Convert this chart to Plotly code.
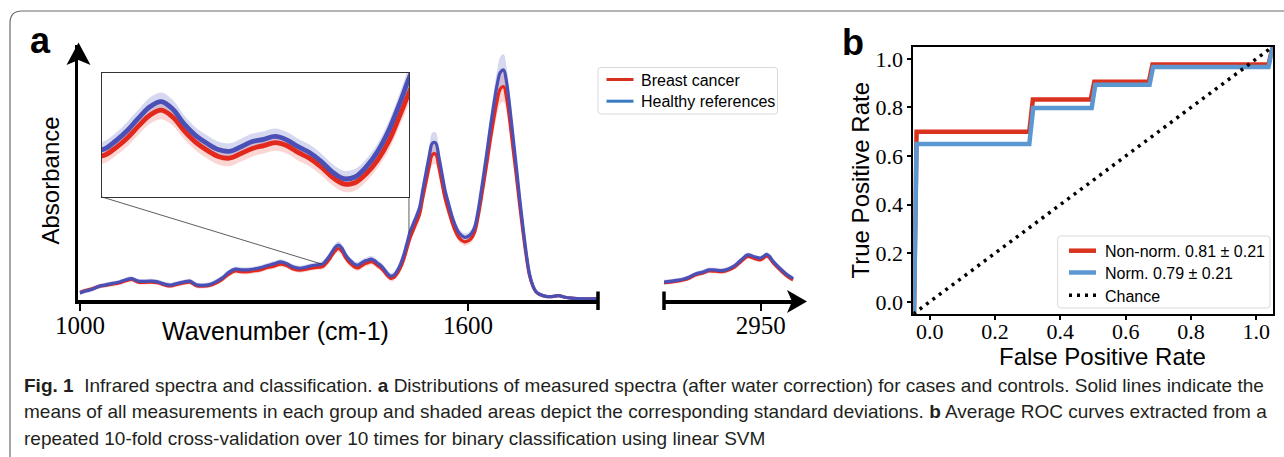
import plotly.graph_objects as go

W, H = 1284, 457

# ---------------- Panel a: IR spectra (mean +/- std) ----------------
wn_low = [1000, 1010, 1020, 1030, 1040, 1050, 1060, 1070, 1080, 1090,
          1100, 1110, 1120, 1130, 1140, 1150, 1160, 1170, 1180, 1190,
          1200, 1210, 1220, 1230, 1240, 1250, 1260, 1270, 1280, 1290,
          1300, 1310, 1320, 1330, 1340, 1350, 1360, 1370,
          1375, 1380, 1385, 1390, 1395, 1400, 1405, 1410, 1415, 1420,
          1425, 1430, 1435, 1440, 1445, 1450, 1455, 1460, 1465, 1470,
          1475, 1480, 1485, 1490, 1495, 1500, 1505, 1510, 1515, 1520,
          1525, 1530, 1535, 1540, 1545, 1550, 1555, 1560, 1565, 1570,
          1575, 1580, 1585, 1590, 1595, 1600, 1605, 1610, 1615, 1620,
          1625, 1630, 1635, 1640, 1645, 1650, 1655, 1660, 1665, 1670,
          1675, 1680, 1685, 1690, 1695, 1700, 1705, 1710,
          1720, 1730, 1740, 1750, 1760, 1770, 1780, 1790, 1800]

healthy_low = [0.031, 0.040, 0.048, 0.060, 0.066, 0.072, 0.077, 0.087, 0.093, 0.082,
               0.081, 0.082, 0.079, 0.070, 0.065, 0.072, 0.078, 0.082, 0.066, 0.064,
               0.067, 0.079, 0.096, 0.120, 0.134, 0.131, 0.131, 0.135, 0.141, 0.150,
               0.157, 0.166, 0.158, 0.143, 0.138, 0.143, 0.150, 0.154,
               0.156, 0.170, 0.188, 0.210, 0.230, 0.239, 0.226, 0.200, 0.180, 0.166,
               0.155, 0.152, 0.160, 0.169, 0.173, 0.178, 0.172, 0.160, 0.150, 0.135,
               0.116, 0.104, 0.107, 0.125, 0.152, 0.190, 0.240, 0.292, 0.328, 0.362,
               0.400, 0.478, 0.552, 0.625, 0.682, 0.683, 0.620, 0.545, 0.470, 0.418,
               0.366, 0.326, 0.296, 0.280, 0.272, 0.276, 0.288, 0.315, 0.378, 0.465,
               0.560, 0.658, 0.760, 0.852, 0.935, 0.990, 1.000, 0.940, 0.828, 0.700,
               0.573, 0.440, 0.318, 0.205, 0.115, 0.065, 0.037, 0.026,
               0.016, 0.015, 0.019, 0.012, 0.008, 0.006, 0.005, 0.005, 0.005]

cancer_low = [0.033, 0.042, 0.050, 0.060, 0.064, 0.069, 0.074, 0.083, 0.089, 0.078,
              0.077, 0.078, 0.075, 0.066, 0.061, 0.068, 0.074, 0.077, 0.062, 0.060,
              0.063, 0.074, 0.090, 0.112, 0.126, 0.123, 0.123, 0.127, 0.132, 0.141,
              0.147, 0.156, 0.149, 0.135, 0.130, 0.134, 0.140, 0.143,
              0.145, 0.158, 0.175, 0.196, 0.215, 0.224, 0.212, 0.188, 0.168, 0.154,
              0.143, 0.140, 0.148, 0.157, 0.162, 0.167, 0.162, 0.150, 0.140, 0.125,
              0.107, 0.095, 0.097, 0.113, 0.137, 0.171, 0.218, 0.266, 0.302, 0.336,
              0.371, 0.443, 0.512, 0.580, 0.632, 0.634, 0.576, 0.506, 0.437, 0.388,
              0.340, 0.302, 0.275, 0.260, 0.253, 0.257, 0.268, 0.293, 0.352, 0.432,
              0.520, 0.611, 0.705, 0.790, 0.866, 0.918, 0.928, 0.872, 0.769, 0.650,
              0.533, 0.410, 0.297, 0.192, 0.108, 0.062, 0.036, 0.025,
              0.016, 0.015, 0.019, 0.012, 0.008, 0.006, 0.005, 0.005, 0.005]

healthy_std_low = [0.010, 0.010, 0.010, 0.010, 0.010, 0.010, 0.010, 0.010, 0.010, 0.010,
                   0.010, 0.010, 0.010, 0.010, 0.010, 0.010, 0.010, 0.010, 0.010, 0.010,
                   0.010, 0.011, 0.011, 0.011, 0.011, 0.011, 0.011, 0.011, 0.011, 0.011,
                   0.011, 0.011, 0.011, 0.011, 0.011, 0.011, 0.011, 0.011,
                   0.014, 0.014, 0.015, 0.015, 0.016, 0.016, 0.016, 0.015, 0.014, 0.014,
                   0.014, 0.014, 0.014, 0.014, 0.014, 0.014, 0.014, 0.014, 0.014, 0.014,
                   0.014, 0.014, 0.014, 0.014, 0.014, 0.016, 0.018, 0.021, 0.022, 0.024,
                   0.026, 0.031, 0.036, 0.041, 0.046, 0.046, 0.041, 0.035, 0.031, 0.027,
                   0.024, 0.021, 0.019, 0.018, 0.018, 0.018, 0.019, 0.020, 0.025, 0.030,
                   0.036, 0.043, 0.050, 0.057, 0.064, 0.068, 0.069, 0.064, 0.056, 0.047,
                   0.037, 0.029, 0.021, 0.014, 0.010, 0.008, 0.007, 0.007,
                   0.006, 0.006, 0.006, 0.006, 0.006, 0.006, 0.006, 0.006, 0.006]

cancer_std_low = [0.010, 0.010, 0.010, 0.010, 0.010, 0.010, 0.010, 0.010, 0.010, 0.010,
                  0.010, 0.010, 0.010, 0.010, 0.010, 0.010, 0.010, 0.010, 0.010, 0.010,
                  0.010, 0.011, 0.011, 0.011, 0.011, 0.011, 0.011, 0.011, 0.011, 0.011,
                  0.011, 0.011, 0.011, 0.011, 0.011, 0.011, 0.011, 0.011,
                  0.014, 0.014, 0.015, 0.015, 0.015, 0.016, 0.015, 0.015, 0.014, 0.014,
                  0.014, 0.014, 0.014, 0.014, 0.014, 0.014, 0.014, 0.014, 0.014, 0.014,
                  0.014, 0.014, 0.014, 0.014, 0.014, 0.016, 0.018, 0.020, 0.021, 0.023,
                  0.025, 0.030, 0.035, 0.040, 0.044, 0.044, 0.040, 0.034, 0.030, 0.026,
                  0.023, 0.020, 0.018, 0.017, 0.017, 0.017, 0.018, 0.019, 0.024, 0.029,
                  0.035, 0.041, 0.048, 0.055, 0.061, 0.065, 0.066, 0.061, 0.053, 0.045,
                  0.036, 0.028, 0.020, 0.013, 0.010, 0.008, 0.007, 0.007,
                  0.006, 0.006, 0.006, 0.006, 0.006, 0.006, 0.006, 0.006, 0.006]

wn_high = [2800, 2810, 2820, 2830, 2840, 2850, 2860, 2870, 2880, 2890, 2900,
           2910, 2920, 2930, 2940, 2950, 2960, 2970, 2980, 2990, 3000]
healthy_high = [0.078, 0.081, 0.085, 0.090, 0.100, 0.114, 0.121, 0.131, 0.130, 0.128, 0.135,
                0.150, 0.175, 0.196, 0.188, 0.182, 0.198, 0.166, 0.137, 0.112, 0.093]
cancer_high = [0.075, 0.078, 0.082, 0.087, 0.096, 0.110, 0.117, 0.126, 0.125, 0.123, 0.130,
               0.144, 0.168, 0.189, 0.181, 0.175, 0.191, 0.159, 0.131, 0.106, 0.088]
healthy_std_high = [0.010] * 21
cancer_std_high = [0.010] * 21

x_ticks_low = [1000, 1600]
x_ticks_high = [2950]

# ---------------- Panel b: ROC curves ----------------
fpr_nonnorm = [-0.048, -0.040, 0.305, 0.316, 0.493, 0.504, 0.671, 0.682, 1.037, 1.052]
tpr_nonnorm = [-0.060, 0.700, 0.700, 0.833, 0.833, 0.906, 0.906, 0.977, 0.977, 1.060]
fpr_norm = [-0.048, -0.040, 0.305, 0.317, 0.496, 0.507, 0.673, 0.684, 1.037, 1.052]
tpr_norm = [-0.060, 0.650, 0.650, 0.798, 0.798, 0.893, 0.893, 0.966, 0.966, 1.060]
chance = [-0.05, 1.05]
roc_ticks = [0.0, 0.2, 0.4, 0.6, 0.8, 1.0]

legend_a_labels = ["Breast cancer", "Healthy references"]
legend_b_labels = ["Non-norm. 0.81 \u00b1 0.21", "Norm. 0.79 \u00b1 0.21", "Chance"]

# ---------------- styling ----------------
RED = "#e2291c"
BLUE = "#4a50b6"
RED_BAND = "rgba(236,110,100,0.28)"
BLUE_BAND = "rgba(120,125,205,0.30)"
ROC_RED = "#d9321f"
ROC_BLUE = "#5b98d2"
LEG_RED = "#d7301f"
LEG_BLUE = "#3a7bc4"
SANS = "Liberation Sans, Arial, sans-serif"
SERIF = "Liberation Serif, Times New Roman, serif"


def px(x):
    return x / W


def py(y):
    return 1 - y / H


fig = go.Figure()


def add_spectra(xa, ya, x, healthy, h_std, cancer, c_std, lw):
    for mean, std, col in ((cancer, c_std, RED_BAND), (healthy, h_std, BLUE_BAND)):
        lo = [m - s for m, s in zip(mean, std)]
        hi = [m + s for m, s in zip(mean, std)]
        fig.add_trace(go.Scatter(x=x, y=lo, mode="lines", line=dict(width=0, shape="spline"),
                                 xaxis=xa, yaxis=ya, showlegend=False, hoverinfo="skip"))
        fig.add_trace(go.Scatter(x=x, y=hi, mode="lines", line=dict(width=0, shape="spline"),
                                 fill="tonexty", fillcolor=col,
                                 xaxis=xa, yaxis=ya, showlegend=False, hoverinfo="skip"))
    fig.add_trace(go.Scatter(x=x, y=cancer, mode="lines", name=legend_a_labels[0],
                             line=dict(color=RED, width=lw, shape="spline"),
                             xaxis=xa, yaxis=ya, showlegend=False))
    fig.add_trace(go.Scatter(x=x, y=healthy, mode="lines", name=legend_a_labels[1],
                             line=dict(color=BLUE, width=lw, shape="spline"),
                             xaxis=xa, yaxis=ya, showlegend=False))


add_spectra("x", "y", wn_low, healthy_low, healthy_std_low, cancer_low, cancer_std_low, 3.2)
add_spectra("x2", "y", wn_high, healthy_high, healthy_std_high, cancer_high, cancer_std_high, 3.2)
add_spectra("x3", "y3", wn_low, healthy_low, healthy_std_low, cancer_low, cancer_std_low, 4.8)

# ROC
fig.add_trace(go.Scatter(x=fpr_nonnorm, y=tpr_nonnorm, mode="lines", line=dict(color=ROC_RED, width=4.5),
                         name=legend_b_labels[0], showlegend=False, xaxis="x4", yaxis="y4"))
fig.add_trace(go.Scatter(x=fpr_norm, y=tpr_norm, mode="lines", line=dict(color=ROC_BLUE, width=4.5),
                         name=legend_b_labels[1], showlegend=False, xaxis="x4", yaxis="y4"))
fig.add_trace(go.Scatter(x=chance, y=chance, mode="lines", line=dict(color="black", width=3.5, dash="3px,5px"),
                         name=legend_b_labels[2], showlegend=False, xaxis="x4", yaxis="y4"))

K = 388 / 600  # px per cm-1
axis_common = dict(showgrid=False, zeroline=False, automargin=False)

fig.update_layout(
    width=W, height=H, autosize=False, showlegend=False,
    margin=dict(l=0, r=0, t=0, b=0, autoexpand=False),
    paper_bgcolor="white", plot_bgcolor="white",
    xaxis=dict(domain=[px(78), px(598)], range=[1000 - 2 / K, 1000 + 518 / K], anchor="y",
               showline=True, linewidth=3.5, linecolor="black",
               ticks="outside", ticklen=7, tickwidth=2, tickcolor="black", ticklabelstandoff=-7,
               tickvals=x_ticks_low, ticktext=[str(v) for v in x_ticks_low],
               tickfont=dict(family=SERIF, size=25, color="black"), **axis_common),
    xaxis2=dict(domain=[px(664), px(795)], range=[2950 - 96.7 / K, 2950 + 34.3 / K], anchor="y",
                showline=True, linewidth=3.5, linecolor="black",
                ticks="outside", ticklen=7, tickwidth=2, tickcolor="black", ticklabelstandoff=-7,
                tickvals=x_ticks_high, ticktext=[str(v) for v in x_ticks_high],
                tickfont=dict(family=SERIF, size=25, color="black"), **axis_common),
    yaxis=dict(domain=[py(300), py(45)], range=[0, 255 / 230], anchor="x",
               showline=True, linewidth=3, linecolor="black", showticklabels=False, ticks="",
               **axis_common),
    xaxis3=dict(domain=[px(102), px(409)], range=[1374, 1508.7], anchor="y3",
                showline=True, mirror=True, linewidth=1.2, linecolor="#333",
                showticklabels=False, ticks="", **axis_common),
    yaxis3=dict(domain=[py(197), py(73)], range=[0.072, 0.289], anchor="x3",
                showline=True, mirror=True, linewidth=1.2, linecolor="#333",
                showticklabels=False, ticks="", **axis_common),
    xaxis4=dict(domain=[px(913.3), px(1272.7)], range=[-0.05, 1.05], anchor="y4",
                showline=True, mirror=True, linewidth=2, linecolor="black",
                ticks="outside", ticklen=4, tickwidth=1.5, tickcolor="black", ticklabelstandoff=-7,
                tickvals=roc_ticks, ticktext=["%.1f" % v for v in roc_ticks],
                tickfont=dict(family=SERIF, size=22, color="black"), **axis_common),
    yaxis4=dict(domain=[py(314), py(46.7)], range=[-0.05, 1.05], anchor="x4",
                showline=True, mirror=True, linewidth=2, linecolor="black",
                ticks="outside", ticklen=4, tickwidth=1.5, tickcolor="black",
                tickvals=roc_ticks, ticktext=["%.1f" % v for v in roc_ticks],
                tickfont=dict(family=SERIF, size=22, color="black"), **axis_common),
)


def rounded_rect(x0, y0, x1, y1, r):
    return ("M %f %f L %f %f Q %f %f %f %f L %f %f Q %f %f %f %f "
            "L %f %f Q %f %f %f %f L %f %f Q %f %f %f %f Z") % (
        px(x0 + r), py(y0), px(x1 - r), py(y0), px(x1), py(y0), px(x1), py(y0 + r),
        px(x1), py(y1 - r), px(x1), py(y1), px(x1 - r), py(y1),
        px(x0 + r), py(y1), px(x0), py(y1), px(x0), py(y1 - r),
        px(x0), py(y0 + r), px(x0), py(y0), px(x0 + r), py(y0))


shapes = []
ann = []

# ---- legends (drawn as boxes, line samples and text) ----
shapes.append(dict(type="path", xref="paper", yref="paper", path=rounded_rect(598, 67.5, 777.5, 114, 3),
                   fillcolor="white", line=dict(color="#d9d9d9", width=1)))
for i, (lab, col) in enumerate(zip(legend_a_labels, [LEG_RED, LEG_BLUE])):
    yy = 79.5 + 21.7 * i
    shapes.append(dict(type="line", xref="paper", yref="paper", x0=px(606.5), x1=px(633.5),
                       y0=py(yy), y1=py(yy), line=dict(color=col, width=3)))
    ann.append(dict(text=lab, x=px(638.5), y=py(yy + 0.8), xanchor="left",
                    font=dict(family=SANS, size=16, color="black")))

shapes.append(dict(type="path", xref="paper", yref="paper", path=rounded_rect(1057.7, 236, 1270, 308, 3),
                   fillcolor="white", line=dict(color="#d9d9d9", width=1)))
leg_b_styles = [dict(color=ROC_RED, width=4.5), dict(color=ROC_BLUE, width=4.5),
                dict(color="black", width=3.5, dash="3px,5px")]
for i, (lab, st) in enumerate(zip(legend_b_labels, leg_b_styles)):
    yy = [250.7, 272.5, 295.3][i]
    shapes.append(dict(type="line", xref="paper", yref="paper", x0=px(1069), x1=px(1096),
                       y0=py(yy), y1=py(yy), line=st))
    ann.append(dict(text=lab, x=px(1102.5), y=py(yy + 0.8), xanchor="left",
                    font=dict(family=SANS, size=16, color="black")))

# ---- axis caps, arrowheads, inset connectors, frame ----
for xc in (598, 664):
    shapes.append(dict(type="line", xref="paper", yref="paper", x0=px(xc), x1=px(xc),
                       y0=py(291.5), y1=py(310), line=dict(color="black", width=3.5)))
shapes.append(dict(type="path", xref="paper", yref="paper", fillcolor="black", line=dict(width=0),
                   path="M %f %f L %f %f L %f %f L %f %f Z" % (
                       px(78.5), py(42.5), px(90.5), py(65), px(78.5), py(60), px(66.5), py(65))))
shapes.append(dict(type="path", xref="paper", yref="paper", fillcolor="black", line=dict(width=0),
                   path="M %f %f L %f %f L %f %f L %f %f Z" % (
                       px(807), py(301.5), px(787), py(290), px(792), py(301.5), px(787), py(313))))
shapes.append(dict(type="line", xref="x", yref="y", x0=1034, y0=103 / 230, x1=1374, y1=0.156,
                   line=dict(color="#333", width=0.8)))
shapes.append(dict(type="line", xref="x", yref="y", x0=1508.7, y0=103 / 230, x1=1508.7, y1=0.29,
                   line=dict(color="#333", width=0.8)))
shapes.append(dict(type="path", xref="paper", yref="paper", line=dict(color="#6b6b6b", width=1.2),
                   path="M %f %f L %f %f Q %f %f %f %f L %f %f" % (
                       px(10), py(470), px(10), py(23), px(10), py(11), px(22), py(11), px(1300), py(11))))
fig.update_layout(shapes=shapes)

ann.append(dict(text="<b>a</b>", x=px(40), y=py(40.5), font=dict(family=SANS, size=36, color="black")))
ann.append(dict(text="<b>b</b>", x=px(853), y=py(42.5), font=dict(family=SANS, size=36, color="black")))
ann.append(dict(text="Absorbance", x=px(49.5), y=py(181), textangle=-90,
                font=dict(family=SANS, size=24, color="black")))
ann.append(dict(text="Wavenumber (cm-1)", x=px(275), y=py(331),
                font=dict(family=SANS, size=25, color="black")))
ann.append(dict(text="True Positive Rate", x=px(859.5), y=py(180), textangle=-90,
                font=dict(family=SANS, size=24, color="black")))
ann.append(dict(text="False Positive Rate", x=px(1102), y=py(356.5),
                font=dict(family=SANS, size=24, color="black")))
cap = [
    "<b>Fig. 1</b>&nbsp;&nbsp;Infrared spectra and classification. <b>a</b> Distributions of measured spectra "
    "(after water correction) for cases and controls. Solid lines indicate the",
    "means of all measurements in each group and shaded areas depict the corresponding standard deviations. "
    "<b>b</b> Average ROC curves extracted from a",
    "repeated 10-fold cross-validation over 10 times for binary classification using linear SVM",
]
for i, t in enumerate(cap):
    ann.append(dict(text=t, x=px(22), y=py(385 + 26.5 * i), xanchor="left",
                    font=dict(family=SANS, size=19, color="#231f20")))
for a in ann:
    a.setdefault("xref", "paper")
    a.setdefault("yref", "paper")
    a.setdefault("showarrow", False)
    a.setdefault("xanchor", "center")
    a.setdefault("yanchor", "middle")
fig.update_layout(annotations=ann)

fig.write_html("out.html", config={"displayModeBar": False},
               post_script="document.body.style.margin='0';")
